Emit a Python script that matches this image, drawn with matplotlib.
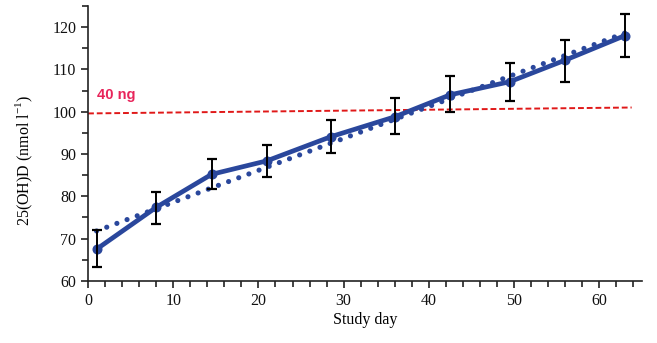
import matplotlib
matplotlib.use("Agg")
import matplotlib.pyplot as plt
import numpy as np
from matplotlib.ticker import MultipleLocator

# Mean serum 25(OH)D by study day with error bars
days = [1, 8, 14.5, 21, 28.5, 36, 42.5, 49.5, 56, 63]
means = [67.5, 77.4, 85.2, 88.4, 94.1, 98.8, 104.0, 107.1, 112.2, 118.0]
err_hi = [72.0, 81.0, 88.8, 92.2, 98.0, 103.2, 108.4, 111.5, 117.0, 123.0]
err_lo = [63.2, 73.5, 81.7, 84.6, 90.2, 94.8, 99.9, 102.6, 107.1, 112.9]

# Linear trend endpoints and the 40 ng reference line
trend_days = [1, 63]
trend_vals = [71.8, 118.6]
ref_days = [0, 63.8]
ref_vals = [99.6, 101.0]
ref_label = "40 ng"

blue = "#2a479c"
serif = ["Liberation Serif", "DejaVu Serif"]

fig = plt.figure(figsize=(6.57, 3.43), dpi=100)
ax = fig.add_axes([0.134, 0.181, 0.843, 0.8015])

ax.plot(ref_days, ref_vals, linestyle=(0, (3.0, 1.5)), color="#e01818", lw=1.4, zorder=2)
ax.text(1.0, 103.9, ref_label, color="#e8245a", fontsize=10.5, fontweight="bold",
        family=["Liberation Sans", "DejaVu Sans"], va="center", ha="left")

ax.plot(trend_days, trend_vals, linestyle=(0, (0.01, 2.1)), color=blue, lw=3.7,
        dash_capstyle="round", solid_capstyle="round", zorder=3)

ax.plot(days, means, color=blue, lw=3.4, marker="o", ms=6.2, zorder=4)

lo = np.array(means) - np.array(err_lo)
hi = np.array(err_hi) - np.array(means)
ax.errorbar(days, means, yerr=[lo, hi], fmt="none", ecolor="black",
            elinewidth=1.4, capsize=3.5, capthick=1.6, zorder=5)

ax.set_xlim(0, 65)
ax.set_ylim(60, 125)
ax.xaxis.set_major_locator(MultipleLocator(10))
ax.xaxis.set_minor_locator(MultipleLocator(2))
ax.yaxis.set_major_locator(MultipleLocator(10))
ax.yaxis.set_minor_locator(MultipleLocator(5))
ax.set_yticks(np.arange(60, 121, 10))

for side in ("top", "right"):
    ax.spines[side].set_visible(False)
for side in ("left", "bottom"):
    ax.spines[side].set_linewidth(1.2)
    ax.spines[side].set_color("#222222")

ax.tick_params(which="major", length=5, width=1.2, direction="out", colors="#222222")
ax.tick_params(which="minor", length=4, width=1.2, direction="out", colors="#222222")
for lab in ax.get_xticklabels() + ax.get_yticklabels():
    lab.set_family(serif)
    lab.set_fontsize(11.5)
    lab.set_color("#111111")

ax.set_xlabel("Study day", family=serif, fontsize=11.5, labelpad=2)
ax.set_ylabel("25(OH)D (nmol l$^{\\mathregular{-1}}$)", family=serif, fontsize=11.5, labelpad=8)
ax.yaxis.set_label_coords(-0.095, 0.44)

fig.savefig("out.png", dpi=100)
